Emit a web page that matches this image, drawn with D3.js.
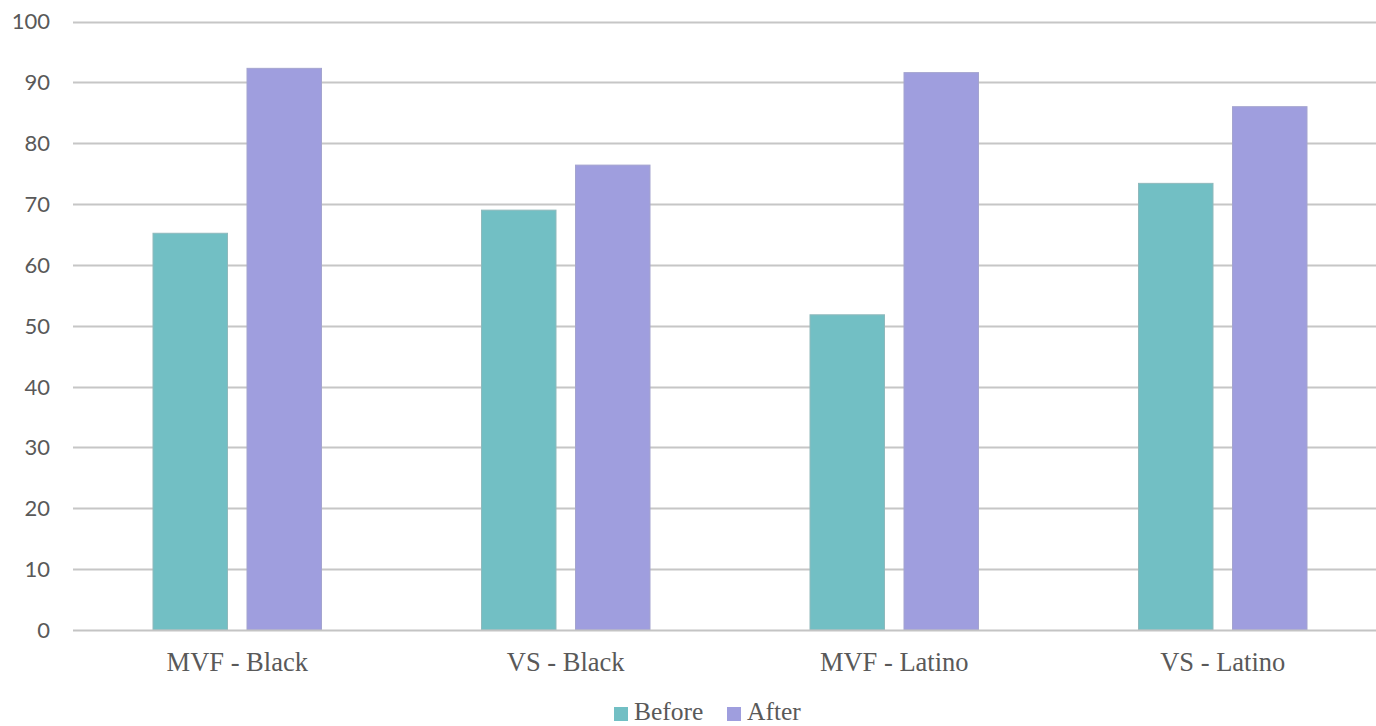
<!DOCTYPE html>
<html>
<head>
<meta charset="utf-8">
<script src="https://cdn.jsdelivr.net/npm/d3@7"></script>
<style>
  html, body { margin: 0; padding: 0; background: #fff; overflow: hidden; }
  svg { display: block; }
</style>
</head>
<body>
<svg id="chart" width="1376" height="726"></svg>
<script>
// Categories and series values
const categories = ["MVF - Black", "VS - Black", "MVF - Latino", "VS - Latino"];
const seriesNames = ["Before", "After"];
const beforeValues = [65.2, 69.0, 51.8, 73.4];
const afterValues = [92.3, 76.4, 91.6, 86.0];
const yTicks = [0, 10, 20, 30, 40, 50, 60, 70, 80, 90, 100];
const colors = { Before: "#72BFC4", After: "#9F9EDE" };
const strokes = { Before: "#8fb9bc", After: "#a4a4cf" };

const rows = categories.map((c, i) => ({ category: c, Before: beforeValues[i], After: afterValues[i] }));

const svg = d3.select("#chart");
const plot = { left: 73, right: 1387, top: 21, bottom: 630 };

const y = d3.scaleLinear().domain([0, 100]).range([plot.bottom, plot.top + 0.5]);
const x0 = d3.scaleBand().domain(categories).range([plot.left, plot.right]).paddingInner(0).paddingOuter(0);
// bars of a cluster: width ~74px, 20px apart, centred in each category
const barW = 74.5, barGap = 19.5;
const x1 = d3.scaleOrdinal().domain(seriesNames)
  .range([-(barW + barGap / 2), barGap / 2]);

// horizontal gridlines
svg.append("g").selectAll("line")
  .data(yTicks.filter(t => t > 0))
  .join("line")
  .attr("x1", plot.left).attr("x2", plot.right)
  .attr("y1", d => Math.round(y(d)) + 0.5).attr("y2", d => Math.round(y(d)) + 0.5)
  .attr("stroke", "#c6c6c6").attr("stroke-width", 2);

// y tick labels
svg.append("g").selectAll("text")
  .data(yTicks)
  .join("text")
  .attr("x", 50)
  .attr("y", d => y(d))
  .attr("dy", "0.36em")
  .attr("text-anchor", "end")
  .attr("font-family", "Lato, 'Open Sans', sans-serif")
  .attr("font-size", 22)
  .attr("fill", "#595959")
  .text(d => d);

// bars
const groups = svg.append("g").selectAll("g")
  .data(rows)
  .join("g")
  .attr("transform", d => `translate(${x0(d.category) + x0.bandwidth() / 2},0)`);

groups.selectAll("rect")
  .data(d => seriesNames.map(k => ({ key: k, value: d[k] })))
  .join("rect")
  .attr("x", d => x1(d.key))
  .attr("width", barW)
  .attr("y", d => y(d.value))
  .attr("height", d => y(0) - y(d.value))
  .attr("fill", d => colors[d.key])
  .attr("stroke", d => strokes[d.key])
  .attr("stroke-width", 1);

// baseline axis
svg.append("line")
  .attr("x1", plot.left).attr("x2", plot.right)
  .attr("y1", plot.bottom + 0.5).attr("y2", plot.bottom + 0.5)
  .attr("stroke", "#c4c4c4").attr("stroke-width", 2);

// category labels
svg.append("g").selectAll("text")
  .data(categories)
  .join("text")
  .attr("x", d => x0(d) + x0.bandwidth() / 2)
  .attr("y", 671)
  .attr("text-anchor", "middle")
  .attr("font-family", "'Liberation Serif', 'DejaVu Serif', serif")
  .attr("font-size", 26.5)
  .attr("fill", "#595959")
  .text(d => d);

// legend
const legendItems = [
  { key: "Before", x: 614 },
  { key: "After", x: 727 }
];
const legend = svg.append("g").selectAll("g")
  .data(legendItems)
  .join("g")
  .attr("transform", d => `translate(${d.x},0)`);
legend.append("rect")
  .attr("x", 0).attr("y", 707).attr("width", 14).attr("height", 14)
  .attr("fill", d => colors[d.key]);
legend.append("text")
  .attr("x", 20).attr("y", 720)
  .attr("font-family", "'Liberation Serif', 'DejaVu Serif', serif")
  .attr("font-size", 25.5)
  .attr("fill", "#595959")
  .text(d => d.key);
</script>
</body>
</html>
